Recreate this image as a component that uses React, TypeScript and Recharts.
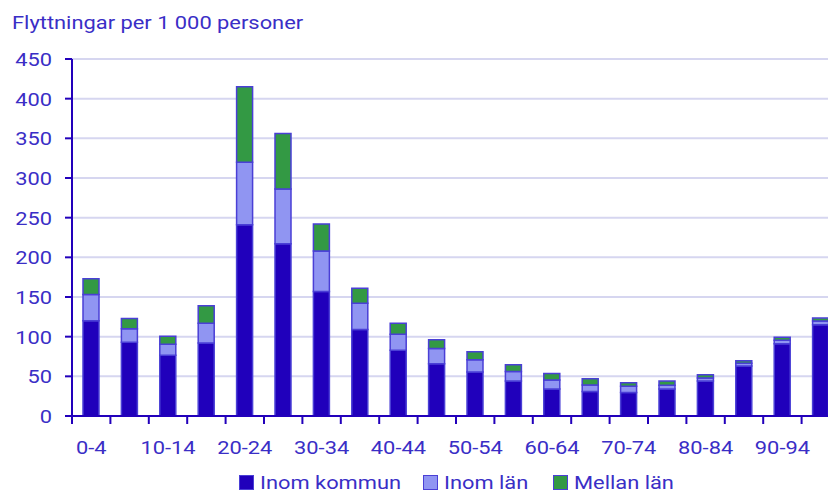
import React from 'react';
import { BarChart, Bar, XAxis, YAxis, CartesianGrid } from 'recharts';

// Age groups and moves per 1 000 persons
const categories = [
  '0-4', '5-9', '10-14', '15-19', '20-24', '25-29', '30-34', '35-39', '40-44', '45-49',
  '50-54', '55-59', '60-64', '65-69', '70-74', '75-79', '80-84', '85-89', '90-94', '95-',
];
const inomKommun = [120, 93, 76.5, 92, 241, 217, 157, 109, 83, 66, 55.5, 44, 34, 31, 29.5, 34, 44, 63, 91, 115];
const inomLan = [33, 17, 14, 25, 79, 69, 51, 33, 20, 19, 15.5, 12, 11.5, 8, 8, 4.7, 4, 3.5, 4.6, 4.7];
const mellanLan = [20, 13, 10, 22, 95, 70, 34, 19, 14, 11, 10, 8.5, 8, 8, 4.5, 5.4, 4, 3.3, 3.8, 3.7];
const yTicks = [0, 50, 100, 150, 200, 250, 300, 350, 400, 450];

const data = categories.map((name, i) => ({
  name,
  kommun: inomKommun[i],
  lan: inomLan[i],
  mellan: mellanLan[i],
}));

const TEXT = '#3a2ec6';
const AXIS = '#2200bb';
const FONT = 'Roboto, sans-serif';
const SX = 1.15; // reference text is a bit wide

const CHART_W = 850;
const CHART_H = 493;
const LEFT = 72;
const RIGHT = 10;
const STEP = (CHART_W - LEFT - RIGHT) / categories.length;

const YTick = ({ x, y, payload }: any) => (
  <g transform={`translate(${x},${y})`}>
    <text transform={`scale(${SX},1)`} textAnchor="end" dy="0.36em" fill={TEXT} fontSize={19} fontFamily={FONT}>
      {payload.value}
    </text>
  </g>
);

const XTick = ({ x, y, payload, index }: any) => (
  <g>
    <line x1={x - STEP / 2} x2={x - STEP / 2} y1={y} y2={y + 8} stroke={AXIS} strokeWidth={2} />
    {index === categories.length - 1 && (
      <line x1={x + STEP / 2} x2={x + STEP / 2} y1={y} y2={y + 8} stroke={AXIS} strokeWidth={2} />
    )}
    {index % 2 === 0 && (
      <g transform={`translate(${x},${y + 31})`}>
        <text transform={`scale(${SX},1)`} textAnchor="middle" dy="0.36em" fill={TEXT} fontSize={19} fontFamily={FONT}>
          {payload.value}
        </text>
      </g>
    )}
  </g>
);

const legendItems = [
  { label: 'Inom kommun', color: '#2000bb', left: 239 },
  { label: 'Inom län', color: '#9095f2', left: 423 },
  { label: 'Mellan län', color: '#339944', left: 553 },
];

export default function App() {
  return (
    <div style={{ position: 'fixed', left: 0, top: 0, width: 828, height: 493, overflow: 'hidden', background: '#fff' }}>
      <div
        style={{
          position: 'absolute', left: 12, top: 10, fontFamily: FONT, fontSize: 19, color: TEXT,
          transform: `scaleX(${SX})`, transformOrigin: 'left top', whiteSpace: 'nowrap', lineHeight: '26px',
        }}
      >
        Flyttningar per 1 000 personer
      </div>
      <BarChart width={CHART_W} height={CHART_H} data={data} margin={{ top: 59, right: RIGHT, bottom: 32, left: 0 }}>
        <CartesianGrid vertical={false} stroke="#d6d6f0" strokeWidth={2} />
        <XAxis
          dataKey="name"
          interval={0}
          tickLine={false}
          tickSize={0}
          tickMargin={0}
          height={45}
          stroke={AXIS}
          strokeWidth={2}
          tick={<XTick />}
        />
        <YAxis
          width={LEFT}
          domain={[0, 450]}
          ticks={yTicks}
          tickSize={7}
          tickMargin={13}
          stroke={AXIS}
          strokeWidth={2}
          tick={<YTick />}
        />
        <Bar dataKey="kommun" stackId="a" fill="#2000bb" stroke="#4a3fd6" strokeWidth={1.5} barSize={16} isAnimationActive={false} />
        <Bar dataKey="lan" stackId="a" fill="#9095f2" stroke="#4a3fd6" strokeWidth={1.5} barSize={16} isAnimationActive={false} />
        <Bar dataKey="mellan" stackId="a" fill="#339944" stroke="#4a3fd6" strokeWidth={1.5} barSize={16} isAnimationActive={false} />
      </BarChart>
      {legendItems.map((item) => (
        <div key={item.label} style={{ position: 'absolute', left: item.left, top: 473, display: 'flex', alignItems: 'center' }}>
          <span style={{ width: 13, height: 13, background: item.color, border: '1px solid #4a3fd6', display: 'inline-block' }} />
          <span
            style={{
              marginLeft: 6, fontFamily: FONT, fontSize: 19, color: TEXT, lineHeight: '19px',
              transform: `scaleX(${SX})`, transformOrigin: 'left center', whiteSpace: 'nowrap', display: 'inline-block',
            }}
          >
            {item.label}
          </span>
        </div>
      ))}
    </div>
  );
}
